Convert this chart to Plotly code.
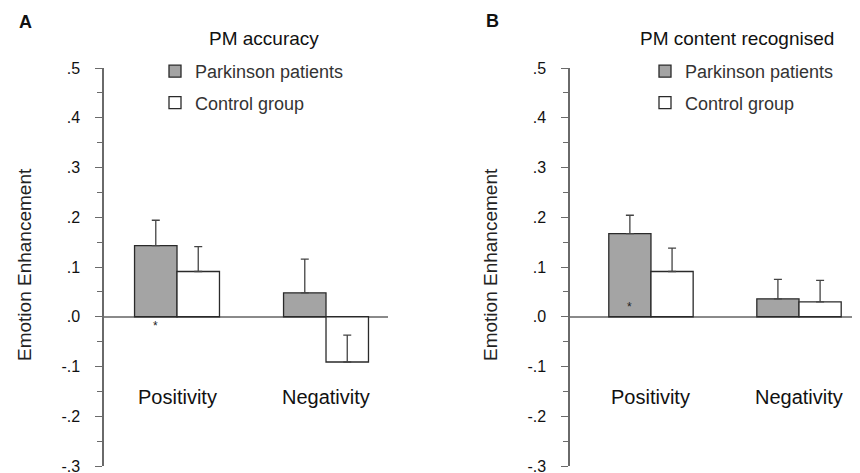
import plotly.graph_objects as go

# ---------------- data ----------------
categories = ["Positivity", "Negativity"]
groups = ["Parkinson patients", "Control group"]
panel_titles = ["PM accuracy", "PM content recognised"]
panel_letters = ["A", "B"]

acc_parkinson = [0.143, 0.048]
acc_parkinson_err = [0.051, 0.068]
acc_control = [0.091, -0.091]
acc_control_err = [0.050, 0.054]

rec_parkinson = [0.167, 0.036]
rec_parkinson_err = [0.037, 0.039]
rec_control = [0.091, 0.030]
rec_control_err = [0.047, 0.043]

# significance markers: (category, y-value) for the Parkinson bar
acc_star = ("Positivity", -0.018)
rec_star = ("Positivity", 0.020)

ytick_vals = [-0.3, -0.2, -0.1, 0.0, 0.1, 0.2, 0.3, 0.4, 0.5]
ytick_text = ["-.3", "-.2", "-.1", ".0", ".1", ".2", ".3", ".4", ".5"]
yminor_vals = [-0.25, -0.15, -0.05, 0.05, 0.15, 0.25, 0.35, 0.45]
category_label_y = -0.161

# ---------------- layout helpers ----------------
W, H = 860, 473
PAGE_OFF = 8  # default page body margin in the browser


def px(x):
    return (x - PAGE_OFF) / W


def py(y):
    return 1 - (y - PAGE_OFF) / H


FONT = "Liberation Sans, Arial, sans-serif"
GRAY_FILL = "#a4a4a4"
EDGE = "#2a2a2a"
ERR = "#444444"
AXIS = "#6a6a6a"
BARGAP = 0.43

fig = go.Figure()

panels = [
    dict(park=acc_parkinson, park_err=acc_parkinson_err,
         ctrl=acc_control, ctrl_err=acc_control_err,
         xa="x", ya="y", legend="legend", star=acc_star),
    dict(park=rec_parkinson, park_err=rec_parkinson_err,
         ctrl=rec_control, ctrl_err=rec_control_err,
         xa="x2", ya="y2", legend="legend2", star=rec_star),
]

for p in panels:
    for name, vals, errs, fill, grp in [
        (groups[0], p["park"], p["park_err"], GRAY_FILL, "p"),
        (groups[1], p["ctrl"], p["ctrl_err"], "white", "c"),
    ]:
        fig.add_trace(go.Bar(
            x=categories, y=vals, name=name,
            xaxis=p["xa"], yaxis=p["ya"], legend=p["legend"],
            legendgroup=grp,
            marker=dict(color=fill, line=dict(color=EDGE, width=1.3)),
            error_y=dict(type="data", symmetric=False, array=errs,
                         arrayminus=[0] * len(errs),
                         color=ERR, thickness=1.3, width=4),
        ))

half_bar = (1 - BARGAP) / 4.0  # offset of the first bar's centre from category centre

yaxis_common = dict(
    range=[-0.3, 0.5], domain=[py(466), py(68)],
    showline=True, linecolor=AXIS, linewidth=1.5,
    ticks="outside", ticklen=7, tickcolor=AXIS, tickwidth=1.2,
    tickmode="array", tickvals=ytick_vals, ticktext=ytick_text,
    ticklabelstandoff=12,
    tickfont=dict(family=FONT, size=16, color="#111111"),
    minor=dict(tickmode="array", tickvals=yminor_vals, ticks="outside",
               ticklen=5, tickcolor=AXIS, tickwidth=1.2, showgrid=False),
    showgrid=False, automargin=False,
    zeroline=True, zerolinecolor="#8a8a8a", zerolinewidth=1.5,
    fixedrange=True,
)
xaxis_common = dict(showticklabels=False, ticks="", showline=False, automargin=False,
                    showgrid=False, zeroline=False, fixedrange=True)

legend_common = dict(xanchor="left", yanchor="top",
                     font=dict(family=FONT, size=18, color="#333333"),
                     tracegroupgap=5, bgcolor="rgba(0,0,0,0)")

fig.update_layout(
    width=W, height=H,
    margin=dict(l=0, r=0, t=0, b=0, autoexpand=False),
    paper_bgcolor="white", plot_bgcolor="white",
    barmode="group", bargap=BARGAP, bargroupgap=0,
    font=dict(family=FONT, color="#222222"),
    xaxis=dict(domain=[px(104), px(388)], range=[-0.49, 1.416], **xaxis_common),
    xaxis2=dict(domain=[px(570), min(1.0, px(860))], range=[-0.547, 1.412],
                anchor="y2", **xaxis_common),
    yaxis=dict(anchor="x", **yaxis_common),
    yaxis2=dict(anchor="x2", **yaxis_common),
    legend=dict(x=px(155), y=py(53), **legend_common),
    legend2=dict(x=px(645), y=py(53), **legend_common),
    showlegend=True,
)


def paper_text(text, x, y, size, color="#111111", xanchor="center", angle=0):
    return dict(text=text, x=px(x), y=py(y), xref="paper", yref="paper",
                xanchor=xanchor, yanchor="middle", textangle=angle,
                showarrow=False, font=dict(family=FONT, size=size, color=color))


annotations = [
    paper_text("<b>%s</b>" % panel_letters[0], 25, 22, 18),
    paper_text("<b>%s</b>" % panel_letters[1], 492, 21, 18),
    paper_text(panel_titles[0], 264, 38, 19),
    paper_text(panel_titles[1], 638, 38, 19, xanchor="left"),
    paper_text("Emotion Enhancement", 24, 265, 19, color="#222222", angle=-90),
    paper_text("Emotion Enhancement", 490, 265, 19, color="#222222", angle=-90),
]

for p in panels:
    for i, c in enumerate(categories):
        annotations.append(dict(text=c, x=i, y=category_label_y, xref=p["xa"], yref=p["ya"],
                                xanchor="center", yanchor="middle", showarrow=False,
                                font=dict(family=FONT, size=20, color="#111111")))
    cat, sy = p["star"]
    annotations.append(dict(text="*", x=categories.index(cat) - half_bar, y=sy,
                            xref=p["xa"], yref=p["ya"], xanchor="center", yanchor="middle",
                            showarrow=False, font=dict(family=FONT, size=12, color="#222222")))

fig.update_layout(annotations=annotations)

fig.write_html("out.html")
